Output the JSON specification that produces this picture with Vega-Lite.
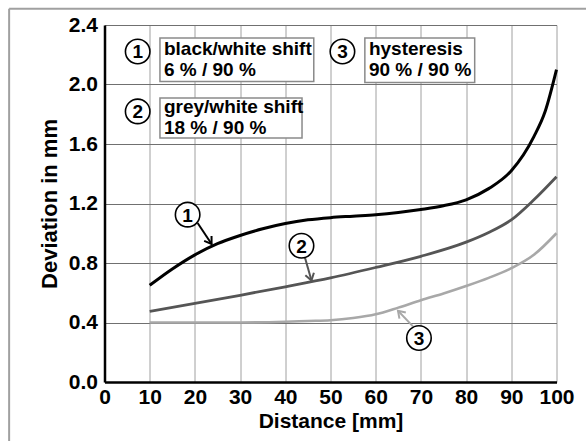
{
  "$schema": "https://vega.github.io/schema/vega-lite/v6.json",
  "width": 452,
  "height": 357,
  "autosize": {"type": "none"},
  "padding": {"left": 104.5, "top": 25, "right": 29.5, "bottom": 59},
  "background": "white",
  "config": {"view": {"stroke": null}, "font": "Liberation Sans"},
  "datasets": {
    "curves": [
      {"d": 10, "v": 0.65, "s": "1"}, {"d": 15, "v": 0.76, "s": "1"}, {"d": 20, "v": 0.855, "s": "1"},
      {"d": 25, "v": 0.93, "s": "1"}, {"d": 30, "v": 0.985, "s": "1"}, {"d": 35, "v": 1.03, "s": "1"},
      {"d": 40, "v": 1.065, "s": "1"}, {"d": 45, "v": 1.09, "s": "1"}, {"d": 50, "v": 1.105, "s": "1"},
      {"d": 55, "v": 1.115, "s": "1"}, {"d": 60, "v": 1.125, "s": "1"}, {"d": 65, "v": 1.14, "s": "1"},
      {"d": 70, "v": 1.16, "s": "1"}, {"d": 75, "v": 1.185, "s": "1"}, {"d": 80, "v": 1.225, "s": "1"},
      {"d": 85, "v": 1.3, "s": "1"}, {"d": 90, "v": 1.42, "s": "1"}, {"d": 95, "v": 1.65, "s": "1"},
      {"d": 97.5, "v": 1.82, "s": "1"}, {"d": 100, "v": 2.1, "s": "1"},
      {"d": 10, "v": 0.475, "s": "2"}, {"d": 20, "v": 0.528, "s": "2"}, {"d": 30, "v": 0.583, "s": "2"},
      {"d": 40, "v": 0.64, "s": "2"}, {"d": 50, "v": 0.70, "s": "2"}, {"d": 60, "v": 0.77, "s": "2"},
      {"d": 70, "v": 0.845, "s": "2"}, {"d": 80, "v": 0.94, "s": "2"}, {"d": 85, "v": 1.005, "s": "2"},
      {"d": 90, "v": 1.09, "s": "2"}, {"d": 95, "v": 1.225, "s": "2"}, {"d": 100, "v": 1.38, "s": "2"},
      {"d": 10, "v": 0.40, "s": "3"}, {"d": 20, "v": 0.40, "s": "3"}, {"d": 30, "v": 0.40, "s": "3"},
      {"d": 40, "v": 0.405, "s": "3"}, {"d": 45, "v": 0.41, "s": "3"}, {"d": 50, "v": 0.415, "s": "3"},
      {"d": 55, "v": 0.43, "s": "3"}, {"d": 60, "v": 0.455, "s": "3"}, {"d": 65, "v": 0.50, "s": "3"},
      {"d": 70, "v": 0.55, "s": "3"}, {"d": 75, "v": 0.595, "s": "3"}, {"d": 80, "v": 0.645, "s": "3"},
      {"d": 85, "v": 0.70, "s": "3"}, {"d": 90, "v": 0.765, "s": "3"}, {"d": 95, "v": 0.855, "s": "3"},
      {"d": 100, "v": 1.0, "s": "3"}
    ],
    "frame": [
      {"x": -21.1, "y": 2.51, "x2": -21.1, "y2": -0.5},
      {"x": -21.1, "y": 2.51, "x2": 108, "y2": 2.51}
    ],
    "circles": [
      {"x": 7.34, "y": 2.222, "n": "1"}, {"x": 7.34, "y": 1.819, "n": "2"}, {"x": 52.64, "y": 2.222, "n": "3"},
      {"x": 18.39, "y": 1.125, "n": "1"}, {"x": 43.58, "y": 0.916, "n": "2"}, {"x": 69.57, "y": 0.296, "n": "3"}
    ],
    "boxes": [
      {"x": 12.27, "x2": 46.3, "y": 2.313, "y2": 2.021},
      {"x": 12.27, "x2": 43.7, "y": 1.909, "y2": 1.640},
      {"x": 57.6, "x2": 81.9, "y": 2.313, "y2": 2.014}
    ],
    "texts": [
      {"x": 13.15, "y": 2.200, "t": "black/white shift"},
      {"x": 13.15, "y": 2.054, "t": "6 % / 90 %"},
      {"x": 13.15, "y": 1.808, "t": "grey/white shift"},
      {"x": 13.15, "y": 1.669, "t": "18 % / 90 %"},
      {"x": 58.5, "y": 2.200, "t": "hysteresis"},
      {"x": 58.5, "y": 2.054, "t": "90 % / 90 %"}
    ],
    "arrows": [
      {"x": 20.6, "y": 1.069, "x2": 23.69, "y2": 0.928, "n": "1"},
      {"x": 44.31, "y": 0.840, "x2": 45.79, "y2": 0.683, "n": "2"},
      {"x": 68.24, "y": 0.374, "x2": 64.93, "y2": 0.479, "n": "3"}
    ]
  },
  "layer": [
    {
      "data": {"name": "curves"},
      "mark": {"type": "line", "interpolate": "monotone", "clip": false},
      "encoding": {
        "x": {"field": "d", "type": "quantitative", "title": "Distance [mm]",
          "scale": {"domain": [0, 100], "nice": false, "zero": false},
          "axis": {"values": [0,10,20,30,40,50,60,70,80,90,100],
            "grid": true, "gridColor": "#a0a0a0", "gridWidth": 1, "ticks": false,
            "domainColor": "black", "domainWidth": 2.5,
            "labelFont": "Liberation Sans", "labelFontWeight": "bold", "labelFontSize": 21, "labelColor": "black",
            "labelPadding": 4, "labelOverlap": false, "labelFlush": false,
            "titleFont": "Liberation Sans", "titleFontWeight": "bold", "titleFontSize": 21, "titleColor": "black", "titlePadding": 3}},
        "y": {"field": "v", "type": "quantitative", "title": "Deviation in mm",
          "scale": {"domain": [0, 2.4], "nice": false},
          "axis": {"values": [0, 0.4, 0.8, 1.2, 1.6, 2.0, 2.4], "format": ".1f",
            "grid": true, "gridColor": "#707070", "gridWidth": 1, "ticks": false,
            "domainColor": "black", "domainWidth": 2.5,
            "labelFont": "Liberation Sans", "labelFontWeight": "bold", "labelFontSize": 21, "labelColor": "black",
            "labelPadding": 7, "labelOverlap": false, "labelFlush": false,
            "titleFont": "Liberation Sans", "titleFontWeight": "bold", "titleFontSize": 22, "titleColor": "black", "titlePadding": 7}},
        "color": {"field": "s", "type": "nominal", "scale": {"domain": ["1", "2", "3"], "range": ["#000000", "#555555", "#a8a8a8"]}, "legend": null},
        "strokeWidth": {"field": "s", "type": "nominal", "scale": {"domain": ["1", "2", "3"], "range": [3, 2.6, 2.6]}, "legend": null}
      }
    },
    {
      "data": {"name": "frame"},
      "mark": {"type": "rule", "clip": false, "color": "#a0a0a0", "strokeWidth": 2},
      "encoding": {
        "x": {"field": "x", "type": "quantitative", "title": "Distance [mm]"},
        "y": {"field": "y", "type": "quantitative", "title": "Deviation in mm"},
        "x2": {"field": "x2", "title": "Distance [mm]"},
        "y2": {"field": "y2", "title": "Deviation in mm"}
      }
    },
    {
      "data": {"name": "arrows"},
      "mark": {"type": "rule", "strokeWidth": 2},
      "encoding": {
        "x": {"field": "x", "type": "quantitative", "title": "Distance [mm]"},
        "y": {"field": "y", "type": "quantitative", "title": "Deviation in mm"},
        "x2": {"field": "x2", "title": "Distance [mm]"},
        "y2": {"field": "y2", "title": "Deviation in mm"},
        "color": {"field": "n", "type": "nominal", "legend": null}
      }
    },
    {
      "data": {"name": "arrows"},
      "transform": [{"filter": "datum.n == '1'"}],
      "mark": {"type": "point", "shape": "M-0.6,0.9L0,0L0.6,0.9", "size": 220, "filled": false, "strokeWidth": 2, "angle": 146, "opacity": 1},
      "encoding": {
        "x": {"field": "x2", "type": "quantitative", "title": "Distance [mm]"},
        "y": {"field": "y2", "type": "quantitative", "title": "Deviation in mm"},
        "color": {"field": "n", "type": "nominal", "legend": null}
      }
    },
    {
      "data": {"name": "arrows"},
      "transform": [{"filter": "datum.n == '2'"}],
      "mark": {"type": "point", "shape": "M-0.6,0.9L0,0L0.6,0.9", "size": 220, "filled": false, "strokeWidth": 2, "angle": 164, "opacity": 1},
      "encoding": {
        "x": {"field": "x2", "type": "quantitative", "title": "Distance [mm]"},
        "y": {"field": "y2", "type": "quantitative", "title": "Deviation in mm"},
        "color": {"field": "n", "type": "nominal", "legend": null}
      }
    },
    {
      "data": {"name": "arrows"},
      "transform": [{"filter": "datum.n == '3'"}],
      "mark": {"type": "point", "shape": "M-0.6,0.9L0,0L0.6,0.9", "size": 220, "filled": false, "strokeWidth": 2, "angle": 316, "opacity": 1},
      "encoding": {
        "x": {"field": "x2", "type": "quantitative", "title": "Distance [mm]"},
        "y": {"field": "y2", "type": "quantitative", "title": "Deviation in mm"},
        "color": {"field": "n", "type": "nominal", "legend": null}
      }
    },
    {
      "data": {"name": "circles"},
      "mark": {"type": "point", "shape": "circle", "size": 600, "fill": "white", "stroke": "black", "strokeWidth": 1.6, "opacity": 1, "fillOpacity": 1},
      "encoding": {
        "x": {"field": "x", "type": "quantitative", "title": "Distance [mm]"},
        "y": {"field": "y", "type": "quantitative", "title": "Deviation in mm"}
      }
    },
    {
      "data": {"name": "circles"},
      "mark": {"type": "text", "font": "Liberation Sans", "fontWeight": "bold", "fontSize": 19, "align": "center", "baseline": "middle", "dy": 1, "color": "black"},
      "encoding": {
        "x": {"field": "x", "type": "quantitative", "title": "Distance [mm]"},
        "y": {"field": "y", "type": "quantitative", "title": "Deviation in mm"},
        "text": {"field": "n"}
      }
    },
    {
      "data": {"name": "boxes"},
      "mark": {"type": "rect", "fill": "white", "stroke": "#8a8a8a", "strokeWidth": 1.5},
      "encoding": {
        "x": {"field": "x", "type": "quantitative", "title": "Distance [mm]"},
        "x2": {"field": "x2", "title": "Distance [mm]"},
        "y": {"field": "y", "type": "quantitative", "title": "Deviation in mm"},
        "y2": {"field": "y2", "title": "Deviation in mm"}
      }
    },
    {
      "data": {"name": "texts"},
      "mark": {"type": "text", "font": "Liberation Sans", "fontWeight": "bold", "fontSize": 19, "align": "left", "baseline": "alphabetic", "color": "black"},
      "encoding": {
        "x": {"field": "x", "type": "quantitative", "title": "Distance [mm]"},
        "y": {"field": "y", "type": "quantitative", "title": "Deviation in mm"},
        "text": {"field": "t"}
      }
    }
  ]
}
